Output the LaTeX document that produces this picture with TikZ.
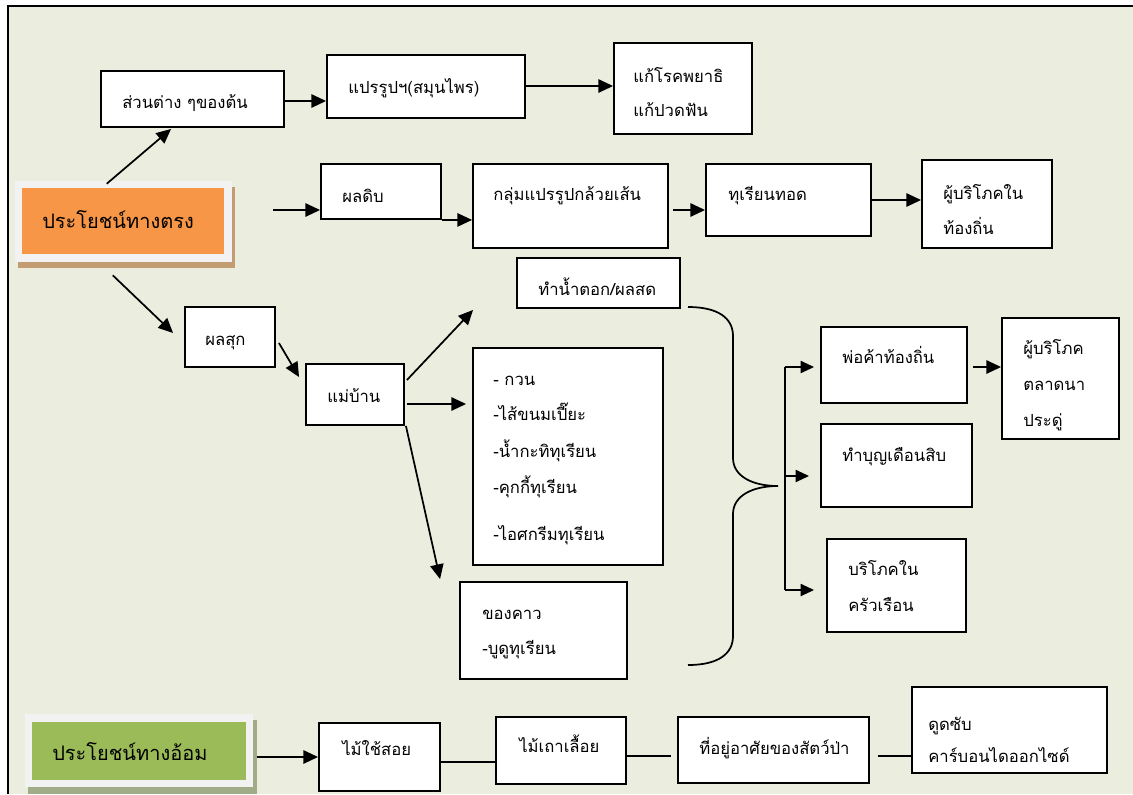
\documentclass[tikz,border=0pt]{standalone}
\usepackage{fontspec}
\newfontfamily\thaifont[Script=Thai]{Loma}
\usetikzlibrary{arrows.meta,fit,calc}
\definecolor{bgc}{HTML}{EBEEDE}
\definecolor{orangec}{HTML}{F79646}
\definecolor{framec}{HTML}{F2F2F2}
\definecolor{brownsh}{HTML}{C49C72}
\definecolor{greenc}{HTML}{9BBB59}
\definecolor{greensh}{HTML}{A0AB88}
\begin{document}
\begin{tikzpicture}[x=0.75pt,y=-0.75pt,
 box/.style={draw=black, fill=white, line width=1.4pt, inner sep=0pt},
 txt/.style={anchor=base west, inner sep=0pt, font=\thaifont\fontsize{12.5}{15}\selectfont},
 title/.style={anchor=base west, inner sep=0pt, font=\thaifont\fontsize{15}{18}\selectfont},
 arr/.style={line width=1.3pt, -{Triangle[length=11pt,width=10pt]}},
 sarr/.style={line width=1.3pt, -{Triangle[length=10pt,width=9pt]}},
 ln/.style={line width=1.3pt}]
\useasboundingbox (0,0) rectangle (1133,794);
\fill[bgc] (8,6) rectangle (1133,794);
\draw[line width=1.5pt] (8,794) -- (8,6) -- (1133,6);

% title boxes
\fill[brownsh] (18,187) rectangle (235,268);
\node[fill=framec, inner sep=0pt, fit={(15,181) (232,262)}] (direct) {};
\fill[orangec] (22,188) rectangle (224,254);
\node[title] at (42,228) {ประโยชน์ทางตรง};

\fill[greensh] (28,720) rectangle (257,794);
\node[fill=framec, inner sep=0pt, fit={(25,714) (253,787)}] (indirect) {};
\fill[greenc] (32,722) rectangle (246,780);
\node[title] at (52,760) {ประโยชน์ทางอ้อม};

% boxes
\node[box, fit={(101,71) (284,127)}] (parts) {};
\node[box, fit={(327,55) (525,118)}] (herb) {};
\node[box, fit={(614,43) (752,134)}] (cure) {};
\node[box, fit={(321,164) (441,219)}] (raw) {};
\node[box, fit={(473,164) (668,248)}] (banana) {};
\node[box, fit={(706,164) (871,236)}] (fried) {};
\node[box, fit={(922,160) (1052,248)}] (local) {};
\node[box, fit={(185,307) (275,367)}] (ripe) {};
\node[box, fit={(306,364) (404,425)}] (house) {};
\node[box, fit={(517,258) (680,308)}] (fresh) {};
\node[box, fit={(473,348) (663,565)}] (sweets) {};
\node[box, fit={(460,582) (627,679)}] (savory) {};
\node[box, fit={(821,327) (967,403)}] (trader) {};
\node[box, fit={(821,424) (972,507)}] (merit) {};
\node[box, fit={(827,539) (966,632)}] (home) {};
\node[box, fit={(1002,318) (1119,439)}] (market) {};
\node[box, fit={(319,723) (440,791)}] (wood) {};
\node[box, fit={(496,717) (626,784)}] (vine) {};
\node[box, fit={(678,717) (869,783)}] (habitat) {};
\node[box, fit={(912,687) (1107,773)}] (carbon) {};

% texts
\node[txt] at (122,108) {ส่วนต่าง ๆของต้น};
\node[txt] at (348,93) {แปรรูปฯ(สมุนไพร)};
\node[txt] at (633,82) {แก้โรคพยาธิ};
\node[txt] at (633,116) {แก้ปวดฟัน};
\node[txt] at (342,202) {ผลดิบ};
\node[txt] at (493,200) {กลุ่มแปรรูปกล้วยเส้น};
\node[txt] at (728,200) {ทุเรียนทอด};
\node[txt] at (943,199) {ผู้บริโภคใน};
\node[txt] at (943,234) {ท้องถิ่น};
\node[txt] at (205,345) {ผลสุก};
\node[txt] at (327,402) {แม่บ้าน};
\node[txt] at (538,295) {ทำน้ำตอก/ผลสด};
\node[txt] at (493,385) {- กวน};
\node[txt] at (493,420) {-ไส้ขนมเปี๊ยะ};
\node[txt] at (493,457) {-น้ำกะทิทุเรียน};
\node[txt] at (493,493) {-คุกกี้ทุเรียน};
\node[txt] at (493,540) {-ไอศกรีมทุเรียน};
\node[txt] at (482,619) {ของคาว};
\node[txt] at (482,654) {-บูดูทุเรียน};
\node[txt] at (842,363) {พ่อค้าท้องถิ่น};
\node[txt] at (842,461) {ทำบุญเดือนสิบ};
\node[txt] at (848,575) {บริโภคใน};
\node[txt] at (848,611) {ครัวเรือน};
\node[txt] at (1023,354) {ผู้บริโภค};
\node[txt] at (1023,390) {ตลาดนา};
\node[txt] at (1023,426) {ประดู่};
\node[txt] at (342,755) {ไม้ใช้สอย};
\node[txt] at (519,752) {ไม้เถาเลื้อย};
\node[txt] at (699,754) {ที่อยู่อาศัยของสัตว์ป่า};
\node[txt] at (928,730) {ดูดซับ};
\node[txt] at (928,762) {คาร์บอนไดออกไซด์};

% connectors
\draw[arr] ($(direct.north west)+(92,3)$) -- ($(parts.south west)+(71,1)$);
\coordinate (d2) at (273,210);
\draw[arr] (d2) -- (raw.west |- d2);
\draw[arr] ($(direct.south west)+(98,13)$) -- ($(ripe.west)+(-11,-4)$);
\draw[arr] ($(parts.east)+(0,2)$) coordinate (p1) -- (p1 -| herb.west);
\draw[arr] ($(herb.east)+(0,-0.5)$) coordinate (p0) -- (p0 -| cure.west);
\draw[arr] (raw.south east) -- (raw.south east -| banana.west);
\draw[arr] ($(banana.east)+(4,4)$) coordinate (p2) -- (p2 -| fried.west);
\draw[arr] (fried.east) -- (fried.east -| local.west);
\draw[arr] ($(ripe.east)+(3,6)$) -- ($(house.north west)+(-6,14)$);
\draw[arr] ($(house.east)+(2,-14.5)$) -- ($(fresh.south west)+(-43,1)$);
\draw[arr] ($(house.east)+(2,9.5)$) coordinate (p3) -- ($(p3 -| sweets.west)+(-6,0)$);
\draw[arr] ($(house.south east)+(1,0)$) -- ($(savory.north west)+(-19,-2)$);

% brace
\coordinate (b1) at (688,307);
\coordinate (b2) at (778,486);
\coordinate (b3) at (688,665);
\draw[ln] (b1) .. controls (718,307) and (733,318) .. (733,336) -- (733,458)
  .. controls (733,476) and (752,486) .. (b2)
  .. controls (752,486) and (733,496) .. (733,514) -- (733,636)
  .. controls (733,654) and (718,665) .. (b3);

% bracket
\coordinate (bt) at (785,367);
\coordinate (bm) at (785,476);
\coordinate (bb) at (785,590);
\draw[ln] (bt) -- (bb);
\draw[sarr] (bt) -- ($(trader.west)+(-6,2)$);
\draw[sarr] (bm) -- ($(merit.west)+(-11,10.5)$);
\draw[sarr] (bb) -- ($(home.west)+(-12,4.5)$);
\draw[arr] ($(trader.east)+(5,2)$) coordinate (p4) -- (p4 -| market.west);

% bottom row
\draw[arr] ($(indirect.east)+(4,6.5)$) coordinate (p5) -- (p5 -| wood.west);
\draw[ln] ($(wood.east)+(0,5)$) coordinate (p6) -- (p6 -| vine.west);
\draw[ln] ($(vine.east)+(0,5.5)$) coordinate (p7) -- ($(p7 -| habitat.west)+(-6,0)$);
\draw[ln] ($(habitat.east)+(8,6)$) coordinate (p8) -- (p8 -| carbon.west);
\end{tikzpicture}
\end{document}
